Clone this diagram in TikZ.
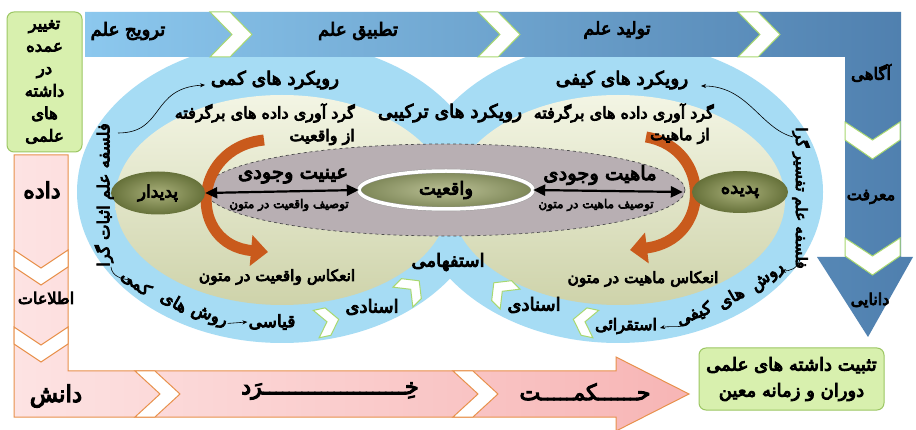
\documentclass[tikz,border=0pt]{standalone}
\usepackage{fontspec}
\newfontfamily\persfont[Script=Arabic, FakeBold=5]{DejaVu Sans}
\TeXXeTstate=1
\usetikzlibrary{arrows.meta,shapes.geometric}
\newcommand\pr[1]{\beginR #1\endR}
\newcount\twcount
\newcommand\tatw[1]{\twcount=#1\relax\loop\ifnum\twcount>0 ـ\advance\twcount-1\repeat}
\definecolor{bandL}{HTML}{8CC8EE}
\definecolor{bandR}{HTML}{4F7FAE}
\definecolor{ring}{HTML}{A6DCF4}
\definecolor{creamT}{HTML}{F3F5E4}
\definecolor{creamB}{HTML}{CED3AA}
\definecolor{grayE}{HTML}{B8AFB3}
\definecolor{oliveI}{HTML}{A9B07A}
\definecolor{oliveO}{HTML}{66713A}
\definecolor{greenF}{HTML}{D8F0AE}
\definecolor{greenD}{HTML}{9CC763}
\definecolor{pinkL}{HTML}{FDE3E3}
\definecolor{pinkR}{HTML}{F7B5B5}
\definecolor{pinkD}{HTML}{E8914C}
\definecolor{orangeA}{HTML}{C95A1C}
\definecolor{chevG}{HTML}{A8D870}
\tikzset{
  ptxt/.style={font=\persfont\fontsize{#1pt}{#1pt}\selectfont, inner sep=0pt, text=black},
  ptxt/.default=14,
  greenbox/.style={draw=greenD, fill=greenF, rounded corners=7pt, line width=1pt},
  olive/.style={ellipse, inner sep=0pt, shading=radial, inner color=oliveI, outer color=oliveO},
  dbl/.style={line width=2.2pt, {Triangle[length=12pt,width=11pt]}-{Triangle[length=12pt,width=11pt]}},
  orangearrow/.style={line width=11pt, orangeA, -{Triangle[length=17pt,width=30pt]}},
  thinarrow/.style={line width=0.6pt, -{Stealth[length=5pt,width=4pt]}},
  chevr/.pic={\filldraw[fill=white, draw=chevG, line width=1pt] (0,0) -- (20,0) -- (42,22.5) -- (20,45) -- (0,45) -- (22,22.5) -- cycle;},
  chevd/.pic={\filldraw[fill=white, draw=chevG, line width=1pt] (0,0) -- (27.5,18) -- (55,0) -- (55,18) -- (27.5,37) -- (0,18) -- cycle;},
  chevdp/.pic={\filldraw[fill=white, draw=pinkD, line width=1pt] (0,0) -- (27,18) -- (54,0) -- (54,17) -- (27,35) -- (0,17) -- cycle;},
  chevrp/.pic={\filldraw[fill=white, draw=pinkD, line width=1pt] (0,0) -- (20,0) -- (45,23) -- (20,46) -- (0,46) -- (25,23) -- cycle;},
  ringchev/.pic={\filldraw[fill=white, draw=chevG, line width=1pt] (-10,-14) -- (2,-14) -- (13,0) -- (2,14) -- (-10,14) -- (1,0) -- cycle;}
}
\begin{document}
\begin{tikzpicture}[x=1pt,y=-1pt]
\useasboundingbox (0,0) rectangle (916,430);
\fill[white] (0,0) rectangle (916,430);

% outer blue rings
\fill[ring] (282,192) ellipse [x radius=205, y radius=151];
\fill[ring] (618,192) ellipse [x radius=205, y radius=151];
% inner cream discs
\shade[top color=creamT, bottom color=creamB] (282,200) ellipse [x radius=167, y radius=105];
\shade[top color=creamT, bottom color=creamB] (618,200) ellipse [x radius=167, y radius=105];
% gray dashed ellipse
\filldraw[fill=grayE, draw=black!70, dashed, line width=0.7pt] (445,190) ellipse [x radius=240, y radius=46];

% top band with down arrow
\shade[left color=bandL, right color=bandR] (85,12) -- (901,12) -- (901,257) -- (913,257) -- (868,337) -- (817,257) -- (845,257) -- (845,57) -- (85,57) -- cycle;
\pic at (210,12) {chevr};
\pic at (478,12) {chevr};
\pic at (738,12) {chevr};
\pic at (845,122) {chevd};
\pic at (845,238) {chevd};

% pink L arrow
\shadedraw[left color=pinkL, right color=pinkR, draw=pinkD, line width=1pt] (14,155) -- (68,155) -- (68,371) -- (616,371) -- (616,357) -- (689,394) -- (616,431) -- (616,417) -- (14,417) -- cycle;
\pic at (14,250) {chevdp};
\pic at (14,327) {chevdp};
\pic at (135,371) {chevrp};
\pic at (453,371) {chevrp};

% ring chevrons
\pic[rotate=12] at (326,322) {ringchev};
\pic[rotate=45] at (410,290) {ringchev};
\pic[rotate=135] at (503,292) {ringchev};
\pic[rotate=168] at (586,322) {ringchev};

% green boxes
\node[greenbox, minimum width=75pt, minimum height=140pt] (chg) at (44.5,82) {};
\node[align=center, inner sep=0pt, font=\persfont\fontsize{16.5pt}{22.5pt}\selectfont] (chgt) at (44.5,82)
  {\pr{تغییر}\\\pr{عمده}\\\pr{در}\\\pr{داشته}\\\pr{های}\\\pr{علمی}};
\node[greenbox, minimum width=185pt, minimum height=62pt] (fix) at (791.5,379) {};
\node[align=center, inner sep=0pt, font=\persfont\fontsize{18pt}{26pt}\selectfont] (fixt) at (791.5,379)
  {\pr{تثبیت داشته های علمی}\\\pr{دوران و زمانه معین}};

% orange curved arrows
\draw[orangearrow] (264,140) .. controls (190,148) and (188,245) .. (268,252);
\draw[orangearrow] (646,137) .. controls (712,148) and (712,240) .. (630,250);

% olive nodes
\node[olive, minimum width=94pt, minimum height=43pt, ptxt=17] (pdr) at (158,193) {\pr{پدیدار}};
\node[olive, minimum width=96pt, minimum height=42pt, ptxt=18] (pdd) at (740,192) {\pr{پدیده}};
\node[ellipse, inner sep=0pt, draw=black!40, double=white, double distance=3.5pt, shading=radial, inner color=oliveI!80!white, outer color=oliveO!85!white, minimum width=174pt, minimum height=38pt, ptxt=18] (vaq) at (446,190) {\pr{واقعیت}};

% double arrows
\draw[dbl] (pdr.east) -- (vaq.west);
\draw[dbl] (vaq.east) -- ([xshift=-9pt]pdd.west);
\node[ptxt=19.5] (ayn) at (293,176) {\pr{عینیت وجودی}};
\node[ptxt=12] (tvq) at (289,205) {\pr{توصیف واقعیت در متون}};
\node[ptxt=19.5] (mah) at (600,175) {\pr{ماهیت وجودی}};
\node[ptxt=12] (tmh) at (596,205) {\pr{توصیف ماهیت در متون}};

% top band labels
\node[ptxt=18] (tarvij) at (128,31) {\pr{ترویج علم}};
\node[ptxt=18] (tatbiq) at (358,31) {\pr{تطبیق علم}};
\node[ptxt=17.5] (tolid) at (617,30) {\pr{تولید علم}};
\node[ptxt=16.5] (agahi) at (871,73) {\pr{آگاهی}};
\node[ptxt=16] (marefat) at (871,197) {\pr{معرفت}};
\node[ptxt=16] (danayi) at (870,300) {\pr{دانایی}};

% pink labels
\node[ptxt=22] (dade) at (42,190) {\pr{داده}};
\node[ptxt=16] (etel) at (46,298) {\pr{اطلاعات}};
\node[ptxt=23] (danesh) at (56,396) {\pr{دانش}};
\node[ptxt=22] (kherad) at (330,391) {\pr{خِ\tatw{22}رَد}};
\node[ptxt=22] (hekmat) at (585,392) {\pr{ح\tatw{6}کم\tatw{5}ت}};

% circle labels
\node[ptxt=18.5] (kammi) at (275,80) {\pr{رویکرد های کمی}};
\node[ptxt=18.5] (keyfi) at (622,80) {\pr{رویکرد های کیفی}};
\node[ptxt=18.5] (tarkibi) at (450,113) {\pr{رویکرد های ترکیبی}};
\node[ptxt=16, anchor=east] (gl1) at (355,113) {\pr{گرد آوری داده های برگرفته}};
\node[ptxt=16, anchor=east] (gl2) at (355,137) {\pr{از واقعیت}};
\node[ptxt=16, anchor=east] (gr1) at (714,113) {\pr{گرد آوری داده های برگرفته}};
\node[ptxt=16, anchor=east] (gr2) at (710,136) {\pr{از ماهیت}};
\node[ptxt=15.5] (enl) at (277,277) {\pr{انعکاس واقعیت در متون}};
\node[ptxt=15.5] (enr) at (643,279) {\pr{انعکاس ماهیت در متون}};
\node[ptxt=18] (estef) at (448,262) {\pr{استفهامی}};
\node[ptxt=18] (esnl) at (372,307) {\pr{اسنادی}};
\node[ptxt=18] (esnr) at (534,305) {\pr{اسنادی}};
\node[ptxt=17] (qiasi) at (272,322) {\pr{قیاسی}};
\node[ptxt=16] (esteq) at (626,326) {\pr{استقرائی}};

% vertical ring labels
\node[ptxt=16.5, rotate=90] (fl) at (104,195) {\pr{فلسفه علم اثبات گرا}};
\node[ptxt=15.5, rotate=-90] (fr) at (801,198) {\pr{فلسفه علم تفسیر گرا}};

% curved ring words
\node[ptxt=17, rotate=-38] (w1) at (136,283) {\pr{کمی}};
\node[ptxt=17, rotate=-30] (w2) at (174,302) {\pr{های}};
\node[ptxt=17, rotate=-20] (w3) at (209,317) {\pr{روش}};
\node[ptxt=17, rotate=38] (w4) at (768,278) {\pr{روش}};
\node[ptxt=17, rotate=30] (w5) at (731,298) {\pr{های}};
\node[ptxt=17, rotate=22] (w6) at (694,314) {\pr{کیفی}};

% small thin arrows
\coordinate (a1s) at (118,133); \coordinate (a1e) at (205,85);
\draw[thinarrow] (a1s) .. controls (165,133) and (150,88) .. (a1e);
\coordinate (a2s) at (793,137); \coordinate (a2e) at (701,86);
\draw[thinarrow] (a2s) .. controls (760,128) and (748,86) .. (a2e);
\coordinate (a3s) at (111,267); \coordinate (a3e) at (132,280);
\draw[thinarrow] (a3s) .. controls (112,276) and (121,279) .. (a3e);
\coordinate (a4s) at (800,259); \coordinate (a4e) at (781,271);
\draw[thinarrow] (a4s) .. controls (798,269) and (789,271) .. (a4e);
\coordinate (a5s) at (687,320); \coordinate (a5e) at (660,328);
\draw[thinarrow] (a5s) .. controls (686,330) and (674,325) .. (a5e);
\draw[thinarrow] ([xshift=1pt]w3.east) -- ([xshift=-1pt]qiasi.west);
\end{tikzpicture}
\end{document}
